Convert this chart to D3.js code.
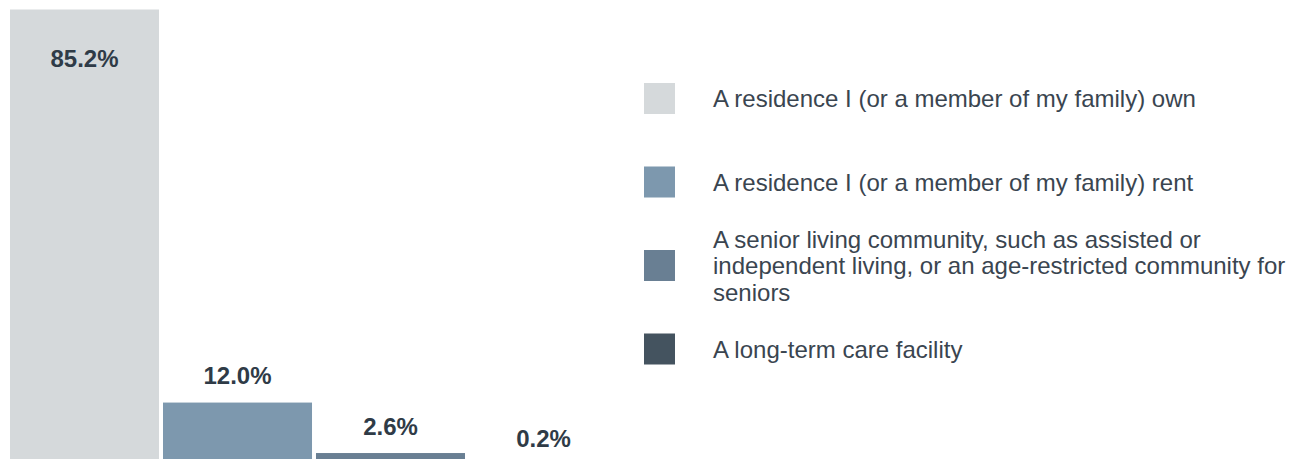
<!DOCTYPE html>
<html>
<head>
<meta charset="utf-8">
<script src="https://cdn.jsdelivr.net/npm/d3@7/dist/d3.min.js"></script>
<style>
  html, body { margin: 0; padding: 0; background: #ffffff; }
  svg { display: block; }
  text { font-family: "Liberation Sans", Arial, sans-serif; }
</style>
</head>
<body>
<svg id="chart" width="1300" height="459"></svg>
<script>
const categories = [
  "A residence I (or a member of my family) own",
  "A residence I (or a member of my family) rent",
  "A senior living community, such as assisted or independent living, or an age-restricted community for seniors",
  "A long-term care facility"
];
const values = [85.2, 12.0, 2.6, 0.2];
const valueLabels = ["85.2%", "12.0%", "2.6%", "0.2%"];
const legendLines = [
  ["A residence I (or a member of my family) own"],
  ["A residence I (or a member of my family) rent"],
  ["A senior living community, such as assisted or", "independent living, or an age-restricted community for", "seniors"],
  ["A long-term care facility"]
];
const colors = ["#d5d9db", "#7d98ae", "#697f93", "#44535f"];

const svg = d3.select("#chart");

const x = d3.scaleBand()
  .domain(categories)
  .range([10, 618])
  .paddingInner(0.026)
  .paddingOuter(0);

const y = d3.scaleLinear()
  .domain([0, 85.2])
  .range([467, 9.5]);

const color = d3.scaleOrdinal().domain(categories).range(colors);

const data = categories.map((c, i) => ({ cat: c, value: values[i], label: valueLabels[i] }));

svg.append("g").selectAll("rect")
  .data(data)
  .join("rect")
  .attr("x", d => x(d.cat))
  .attr("y", d => y(d.value))
  .attr("width", x.bandwidth())
  .attr("height", d => Math.max(0, y(0) - y(d.value)))
  .attr("fill", d => color(d.cat));

svg.append("g").selectAll("text")
  .data(data)
  .join("text")
  .attr("x", d => x(d.cat) + x.bandwidth() / 2)
  .attr("y", (d, i) => i === 0 ? y(d.value) + 57 : y(d.value) - 18.5)
  .attr("text-anchor", "middle")
  .attr("font-size", 24)
  .attr("font-weight", "bold")
  .attr("fill", "#2f3b47")
  .text(d => d.label);

// Legend
const legendX = 644, legendSize = 31, legendTop = 98.5, legendStep = 83.5, lineH = 26.5;
const lg = svg.append("g").selectAll("g")
  .data(categories)
  .join("g")
  .attr("transform", (d, i) => `translate(0,${legendTop + i * legendStep})`);

lg.append("rect")
  .attr("x", legendX)
  .attr("y", -legendSize / 2)
  .attr("width", legendSize)
  .attr("height", legendSize)
  .attr("fill", d => color(d));

lg.each(function(d, i) {
  const lines = legendLines[i];
  const g = d3.select(this);
  const n = lines.length;
  g.selectAll("text")
    .data(lines)
    .join("text")
    .attr("x", 713)
    .attr("y", (l, j) => (j - (n - 1) / 2) * lineH + 8.5)
    .attr("font-size", 24)
    .attr("fill", "#3a4550")
    .text(l => l);
});
</script>
</body>
</html>
